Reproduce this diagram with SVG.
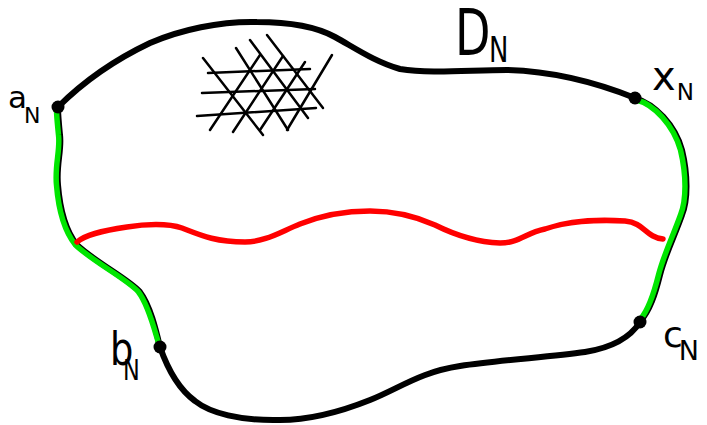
<svg xmlns="http://www.w3.org/2000/svg" width="707" height="425" viewBox="0 0 707 425">
<style>
.bd{fill:none;stroke:#000;stroke-width:6;stroke-linecap:round;stroke-linejoin:round}
.gr{fill:none;stroke:#00e600;stroke-width:5.5;stroke-linecap:round;stroke-linejoin:round}
.rd{fill:none;stroke:#ff0000;stroke-width:5.5;stroke-linecap:round;stroke-linejoin:round}
.ht{stroke:#000;stroke-width:2.5;stroke-linecap:round}
.pt{fill:#000}
.lb{font-family:"DejaVu Sans","Liberation Sans",sans-serif;fill:#000}
</style>
<rect width="707" height="425" fill="#fff"/>
<g id="boundary">
<path class="bd" d="M58,107 C80,85 110,62 150,43 C180,30 220,21 257,22 C290,22 315,26 335,37 C355,48 375,62 400,69 C430,74 470,70 507,70 C545,71 590,80 635,98"/>
<path class="bd" d="M635,98 C655,104 675,125 682,150 C688,175 688,200 682,215 C675,235 665,255 660,275 C655,295 650,310 640,322"/>
<path class="bd" d="M640,322 C630,338 610,348 585,352 C550,357 500,360 460,366 C420,372 400,388 370,400 C340,412 310,420 280,420 C240,421 210,413 195,401 C180,390 168,370 160,347"/>
<path class="bd" d="M160,347 C156,330 150,305 140,292 C130,280 95,262 77,245 C65,230 60,210 58,185 C56,165 62,150 60,135 C59,125 58,115 58,107"/>
</g>
<g id="connectors">
<path class="gr" transform="translate(-1.5,0)" d="M160,343 C156,330 150,305 140,292 C130,280 95,262 77,245 C65,230 60,210 58,185 C56,165 62,150 60,135 C59,125 58,115 58,110"/>
<path class="gr" transform="translate(-1.5,0)" d="M638,100 C655,104 675,125 682,150 C688,175 688,200 682,215 C675,235 665,255 660,275 C655,295 650,310 642,319"/>
<path class="rd" d="M77,242 C85,235 100,231 127,227 C145,224 168,223 182,228 C200,235 215,242 245,242 C265,242 280,232 300,224 C320,216 345,211 370,211 C395,211 415,216 435,225 C455,235 475,242 500,243 C520,243 525,233 545,229 C565,222 595,219 625,221 C645,223 645,237 663,239"/>
</g>
<g id="mesh">
<line class="ht" x1="208" y1="73" x2="310" y2="69"/>
<line class="ht" x1="202" y1="93" x2="315" y2="89"/>
<line class="ht" x1="197" y1="116" x2="316" y2="108"/>
<line class="ht" x1="203" y1="58" x2="263" y2="135"/>
<line class="ht" x1="236" y1="48" x2="288" y2="130"/>
<line class="ht" x1="250" y1="40" x2="308" y2="118"/>
<line class="ht" x1="267" y1="35" x2="323" y2="108"/>
<line class="ht" x1="260" y1="55" x2="210" y2="130"/>
<line class="ht" x1="283" y1="56" x2="233" y2="132"/>
<line class="ht" x1="305" y1="62" x2="260" y2="130"/>
<line class="ht" x1="332" y1="55" x2="287" y2="130"/>
</g>
<g id="node-aN"><circle class="pt" cx="58" cy="107" r="6.5"/><text class="lb" x="8" y="108" font-size="31">a<tspan dx="-3" dy="15" font-size="22">N</tspan></text></g>
<g id="node-xN"><circle class="pt" cx="635" cy="98" r="6.5"/><text class="lb" x="652" y="90" font-size="40">x<tspan dx="1" dy="10" font-size="23">N</tspan></text></g>
<g id="node-bN"><circle class="pt" cx="160" cy="347" r="6.5"/><text class="lb" transform="translate(110,365) scale(0.8,1)" font-size="46">b<tspan dx="-13" dy="15" font-size="28">N</tspan></text></g>
<g id="node-cN"><circle class="pt" cx="640" cy="322" r="6.5"/><text class="lb" x="663" y="347" font-size="36">c<tspan dx="-4" dy="13" font-size="27">N</tspan></text></g>
<g id="label-DN"><text class="lb" transform="translate(455,55) scale(0.72,1)" font-size="64">D<tspan dx="-2" dy="7" font-size="36">N</tspan></text></g>
</svg>
